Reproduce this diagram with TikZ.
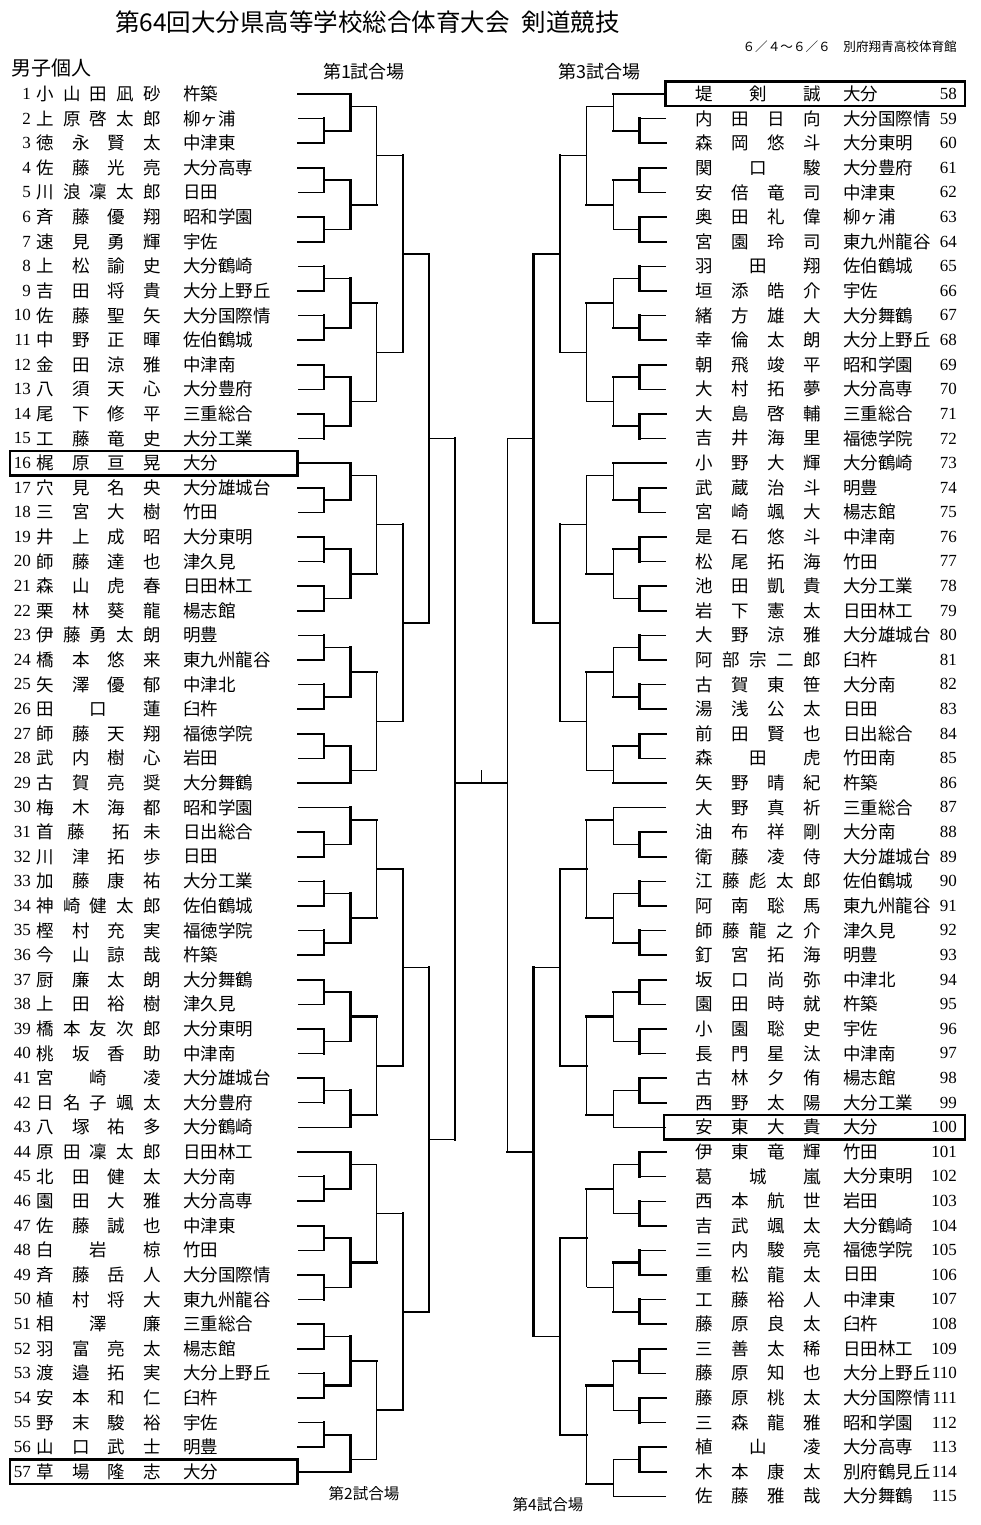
\documentclass[tikz,border=0pt]{standalone}
\usepackage{fontspec}
\setmainfont{Noto Sans CJK JP}
\newfontfamily\numfont{Liberation Serif}
\usetikzlibrary{calc}

% spread the characters of a name over a fixed width
\ExplSyntaxOn
\seq_new:N \l_spread_seq
\cs_new_protected:Npn \spread_chars:n #1
  {
    \seq_clear:N \l_spread_seq
    \tl_map_inline:nn {#1} { \seq_put_right:Nn \l_spread_seq {##1} }
    \seq_use:Nn \l_spread_seq { \hfill }
  }
\cs_generate_variant:Nn \spread_chars:n { o }
\NewDocumentCommand{\spreadchars}{m}{ \spread_chars:o {#1} }
\ExplSyntaxOff
\newcommand{\spreadbox}[1]{\makebox[125pt]{\spreadchars{#1}}}

\begin{document}
\begin{tikzpicture}[
  x=1pt, y=-1pt,
  every node/.style={inner sep=0pt, font=\fontsize{17.5}{17.5}\selectfont},
  numL/.style={anchor=east, font=\numfont\fontsize{17}{17}\selectfont},
  nameL/.style={anchor=west},
  schoolL/.style={anchor=west},
  court/.style={font=\fontsize{18}{18}\selectfont},
  courtS/.style={font=\fontsize{15.5}{15.5}\selectfont},
  lnT/.style={line width=2.2pt, line cap=rect},
  lnt/.style={line width=0.9pt},
  boxln/.style={line width=2.4pt}
]
\useasboundingbox (0,0) rectangle (981,1525);

% heading
\node[font=\fontsize{24.5}{24.5}\selectfont] (title) at (367.5,22) {第64回大分県高等学校総合体育大会\hspace{0.5em}剣道競技};
\node[anchor=east, font=\fontsize{12.6}{12.6}\selectfont] (venue) at (957,47) {６／４～６／６　別府翔青高校体育館};
\node[anchor=west, font=\fontsize{20}{20}\selectfont] (event) at (11,68) {男子個人};
\node[court] (court1) at (364,72) {第1試合場};
\node[court] (court3) at (599.5,72) {第3試合場};
\node[courtS] (court2) at (364,1494) {第2試合場};
\node[courtS] (court4) at (548,1505) {第4試合場};

% columns and half rows
\foreach \k in {0,...,6} {
  \coordinate (L\k) at ({298+26.2*\k},0);
  \coordinate (R\k) at ({666-26.5*\k},0);
}
\foreach \h in {0,...,114} \coordinate (h\h) at (0,{94+12.3*\h});

% left players
\foreach \pn/\nm/\school in {
  1/小山田凪砂/杵築, 2/上原啓太郎/柳ヶ浦, 3/徳永賢太/中津東, 4/佐藤光亮/大分高専,
  5/川浪凜太郎/日田, 6/斉藤優翔/昭和学園, 7/速見勇輝/宇佐, 8/上松諭史/大分鶴崎,
  9/吉田将貴/大分上野丘, 10/佐藤聖矢/大分国際情, 11/中野正暉/佐伯鶴城, 12/金田涼雅/中津南,
  13/八須天心/大分豊府, 14/尾下修平/三重総合, 15/工藤竜史/大分工業, 16/梶原亘晃/大分,
  17/穴見名央/大分雄城台, 18/三宮大樹/竹田, 19/井上成昭/大分東明, 20/師藤達也/津久見,
  21/森山虎春/日田林工, 22/栗林葵龍/楊志館, 23/伊藤勇太朗/明豊, 24/橋本悠来/東九州龍谷,
  25/矢澤優郁/中津北, 26/田口蓮/臼杵, 27/師藤天翔/福徳学院, 28/武内樹心/岩田,
  29/古賀亮奨/大分舞鶴, 30/梅木海都/昭和学園, 31/首藤{}拓未/日出総合, 32/川津拓歩/日田,
  33/加藤康祐/大分工業, 34/神崎健太郎/佐伯鶴城, 35/樫村充実/福徳学院, 36/今山諒哉/杵築,
  37/厨廉太朗/大分舞鶴, 38/上田裕樹/津久見, 39/橋本友次郎/大分東明, 40/桃坂香助/中津南,
  41/宮崎凌/大分雄城台, 42/日名子颯太/大分豊府, 43/八塚祐多/大分鶴崎, 44/原田凜太郎/日田林工,
  45/北田健太/大分南, 46/園田大雅/大分高専, 47/佐藤誠也/中津東, 48/白岩椋/竹田,
  49/斉藤岳人/大分国際情, 50/植村将大/東九州龍谷, 51/相澤廉/三重総合, 52/羽富亮太/楊志館,
  53/渡邉拓実/大分上野丘, 54/安本和仁/臼杵, 55/野末駿裕/宇佐, 56/山口武士/明豊,
  57/草場隆志/大分} {
  \pgfmathsetmacro{\yy}{94+24.6*(\pn-1)}
  \node[numL] (numL\pn) at (31,\yy) {\pn};
  \node[nameL] (nameL\pn) at (36,\yy) {\spreadbox{\nm}};
  \node[schoolL] (schL\pn) at (183,\yy) {\school};
}

% right players
\foreach \pn/\nm/\school in {
  58/堤剣誠/大分, 59/内田日向/大分国際情, 60/森岡悠斗/大分東明, 61/関口駿/大分豊府,
  62/安倍竜司/中津東, 63/奥田礼偉/柳ヶ浦, 64/宮園玲司/東九州龍谷, 65/羽田翔/佐伯鶴城,
  66/垣添皓介/宇佐, 67/緒方雄大/大分舞鶴, 68/幸倫太朗/大分上野丘, 69/朝飛竣平/昭和学園,
  70/大村拓夢/大分高専, 71/大島啓輔/三重総合, 72/吉井海里/福徳学院, 73/小野大輝/大分鶴崎,
  74/武蔵治斗/明豊, 75/宮崎颯大/楊志館, 76/是石悠斗/中津南, 77/松尾拓海/竹田,
  78/池田凱貴/大分工業, 79/岩下憲太/日田林工, 80/大野涼雅/大分雄城台, 81/阿部宗二郎/臼杵,
  82/古賀東笹/大分南, 83/湯浅公太/日田, 84/前田賢也/日出総合, 85/森田虎/竹田南,
  86/矢野晴紀/杵築, 87/大野真祈/三重総合, 88/油布祥剛/大分南, 89/衛藤凌侍/大分雄城台,
  90/江藤彪太郎/佐伯鶴城, 91/阿南聡馬/東九州龍谷, 92/師藤龍之介/津久見, 93/釘宮拓海/明豊,
  94/坂口尚弥/中津北, 95/園田時就/杵築, 96/小園聡史/宇佐, 97/長門星汰/中津南,
  98/古林夕侑/楊志館, 99/西野太陽/大分工業, 100/安東大貴/大分, 101/伊東竜輝/竹田,
  102/葛城嵐/大分東明, 103/西本航世/岩田, 104/吉武颯太/大分鶴崎, 105/三内駿亮/福徳学院,
  106/重松龍太/日田, 107/工藤裕人/中津東, 108/藤原良太/臼杵, 109/三善太稀/日田林工,
  110/藤原知也/大分上野丘, 111/藤原桃太/大分国際情, 112/三森龍雅/昭和学園, 113/植山凌/大分高専,
  114/木本康太/別府鶴見丘, 115/佐藤雅哉/大分舞鶴} {
  \pgfmathsetmacro{\yy}{94+24.6*(\pn-58)}
  \node[nameL] (nameR\pn) at (695.5,\yy) {\spreadbox{\nm}};
  \node[schoolL] (schR\pn) at (843,\yy) {\school};
  \node[numL] (numR\pn) at (957,\yy) {\pn};
}

% seeded players
\draw[boxln] (10,451) rectangle (297.5,475.5);
\draw[boxln] (10,1459.5) rectangle (297.5,1484);
\draw[boxln] (665.5,81.5) rectangle (965,106);
\draw[boxln] (664,1115) rectangle (965,1139.5);

% left bracket: first round
\foreach \a/\fa/\fb/\fo in {2/t/T/T, 4/T/t/T, 6/T/T/t, 8/t/T/t, 10/t/T/T, 12/T/t/T, 14/T/t/T,
  17/T/t/T, 19/T/t/T, 21/T/T/t, 23/t/T/t, 25/t/T/T, 27/T/t/T, 31/T/T/t, 33/t/T/t, 35/t/T/T,
  37/T/t/T, 39/T/t/t, 41/T/t/t, 45/t/T/T, 47/T/t/T, 49/T/t/t, 51/T/T/t, 53/t/T/T, 55/t/T/T} {
  \pgfmathtruncatemacro{\ha}{2*(\a-1)}
  \pgfmathtruncatemacro{\hb}{\ha+2}
  \pgfmathtruncatemacro{\hm}{\ha+1}
  \draw[ln\fa] (L0 |- h\ha) -- (L1 |- h\ha);
  \draw[ln\fb] (L0 |- h\hb) -- (L1 |- h\hb);
  \draw[lnT] (L1 |- h\ha) -- (L1 |- h\hb);
  \draw[ln\fo] (L1 |- h\hm) -- (L2 |- h\hm);
}
\foreach \a/\fa in {1/T, 16/T, 29/T, 30/t, 43/t, 44/T, 57/T} {
  \pgfmathtruncatemacro{\ha}{2*(\a-1)}
  \draw[ln\fa] (L0 |- h\ha) -- (L2 |- h\ha);
}
% left bracket: later rounds
\foreach \lv/\tp/\bt/\ou/\fv/\fo in {
  2/0/3/1/T/t, 2/7/11/9/T/T, 2/15/19/17/T/T, 2/23/27/25/T/t, 2/30/33/31/T/t, 2/37/41/39/T/T,
  2/45/49/47/T/T, 2/53/56/55/T/t, 2/58/61/59/T/T, 2/65/69/67/T/T, 2/73/77/75/T/T, 2/81/84/83/T/T,
  2/86/89/87/T/t, 2/93/97/95/T/T, 2/101/105/103/T/T, 2/109/112/111/T/t,
  3/1/9/5/t/t, 3/17/25/21/t/t, 3/31/39/35/t/t, 3/47/55/51/t/t,
  3/59/67/63/t/T, 3/75/83/79/t/T, 3/87/95/91/t/t, 3/103/111/107/t/T,
  4/5/21/13/T/T, 4/35/51/43/T/T, 4/63/79/71/T/t, 4/91/107/99/T/T,
  5/13/43/28/T/t, 5/71/99/85/T/t} {
  \pgfmathtruncatemacro{\nx}{\lv+1}
  \draw[ln\fv] (L\lv |- h\tp) -- (L\lv |- h\bt);
  \draw[ln\fo] (L\lv |- h\ou) -- (L\nx |- h\ou);
}
\draw[lnT] (L6 |- h28) -- (L6 |- h85);

% right bracket: first round
\foreach \a/\fa/\fb/\fo in {59/t/T/T, 61/T/t/T, 63/T/T/t, 65/t/T/t, 67/t/T/T, 69/T/t/T, 71/T/t/T,
  74/T/t/T, 76/T/t/T, 78/T/T/t, 80/t/T/t, 82/t/T/T, 84/T/t/T, 88/T/T/t, 90/t/T/t, 92/t/T/T,
  94/T/t/T, 96/T/t/t, 98/T/T/t, 101/T/t/t, 103/t/T/t, 105/t/T/T, 107/t/T/T, 109/T/t/T,
  111/T/t/t, 113/T/T/t} {
  \pgfmathtruncatemacro{\ha}{2*(\a-58)}
  \pgfmathtruncatemacro{\hb}{\ha+2}
  \pgfmathtruncatemacro{\hm}{\ha+1}
  \draw[ln\fa] (R0 |- h\ha) -- (R1 |- h\ha);
  \draw[ln\fb] (R0 |- h\hb) -- (R1 |- h\hb);
  \draw[lnT] (R1 |- h\ha) -- (R1 |- h\hb);
  \draw[ln\fo] (R1 |- h\hm) -- (R2 |- h\hm);
}
\foreach \a/\fa in {58/T, 73/T, 86/T, 87/t, 100/t, 115/t} {
  \pgfmathtruncatemacro{\ha}{2*(\a-58)}
  \draw[ln\fa] (R0 |- h\ha) -- (R2 |- h\ha);
}
% right bracket: later rounds
\foreach \lv/\tp/\bt/\ou/\fv/\fo in {
  2/0/3/1/t/t, 2/7/11/9/t/T, 2/15/19/17/t/T, 2/23/27/25/t/t, 2/30/33/31/t/t, 2/37/41/39/t/T,
  2/45/49/47/t/T, 2/53/56/55/t/t, 2/58/61/59/t/T, 2/65/69/67/t/T, 2/73/77/75/t/T, 2/81/84/83/t/T,
  2/87/91/89/t/T, 2/95/99/97/t/t, 2/103/107/105/t/T, 2/111/114/113/t/T,
  3/1/9/5/t/t, 3/17/25/21/t/t, 3/31/39/35/t/t, 3/47/55/51/t/t,
  3/59/67/63/t/T, 3/75/83/79/t/T, 3/89/97/93/t/T, 3/105/113/109/t/T,
  4/5/21/13/T/T, 4/35/51/43/T/T, 4/63/79/71/T/t, 4/93/109/101/T/t,
  5/13/43/28/T/t, 5/71/101/86/T/T} {
  \pgfmathtruncatemacro{\nx}{\lv+1}
  \draw[ln\fv] (R\lv |- h\tp) -- (R\lv |- h\bt);
  \draw[ln\fo] (R\lv |- h\ou) -- (R\nx |- h\ou);
}
\draw[lnt] (R6 |- h28) -- (R6 |- h86);

% final
\coordinate (ctr) at ($(L6 |- h56)!.5!(R6 |- h56)$);
\draw[lnT] (L6 |- h56) -- (R6 |- h56);
\draw[lnt] (ctr) -- ++(0,-13);
\end{tikzpicture}
\end{document}
